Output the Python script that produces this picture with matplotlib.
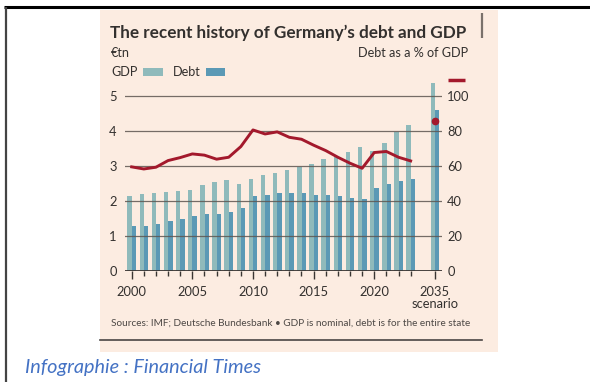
import matplotlib
matplotlib.use("Agg")
import matplotlib.pyplot as plt
import matplotlib.patches as patches
import numpy as np

plt.rcParams['font.family'] = ['Lato', 'DejaVu Sans']

# Data (€tn and % of GDP)
years = list(range(2000, 2024))
gdp = [2.13, 2.19, 2.22, 2.26, 2.30, 2.32, 2.45, 2.54, 2.61, 2.50, 2.64, 2.75,
       2.79, 2.90, 2.97, 3.06, 3.19, 3.29, 3.41, 3.53, 3.42, 3.67, 3.96, 4.17]
debt = [1.28, 1.28, 1.34, 1.44, 1.50, 1.56, 1.62, 1.62, 1.69, 1.81, 2.13, 2.16,
        2.22, 2.22, 2.22, 2.18, 2.18, 2.13, 2.10, 2.06, 2.36, 2.49, 2.56, 2.62]
debt_pct = [59.5, 58.3, 59.3, 63.1, 64.8, 66.9, 66.2, 63.9, 65.0, 71.1, 80.6, 78.3,
            79.5, 76.4, 75.3, 71.9, 68.8, 65.0, 61.6, 58.7, 67.7, 68.3, 65.0, 62.9]
scenario_pos = 2025          # where the 2035 scenario sits on the axis
scenario_gdp = 5.36
scenario_debt = 4.60
scenario_pct = 85.5
xtick_years = [2000, 2005, 2010, 2015, 2020, scenario_pos]
xtick_labels = ['2000', '2005', '2010', '2015', '2020', '2035\nscenario']

# Styles
PINK = '#fcece1'
GDP_C = '#8fbabb'
DEBT_C = '#5b99b5'
RED = '#a3192c'
TXT = '#33302e'
GRID = '#5e5651'

fig = plt.figure(figsize=(5.9, 3.82), dpi=100)

# background / page furniture in pixel coordinates
bg = fig.add_axes([0, 0, 1, 1], zorder=0)
bg.set_xlim(0, 590)
bg.set_ylim(382, 0)
bg.axis('off')
bg.add_patch(patches.Rectangle((100, 10), 397.5, 342, facecolor=PINK, edgecolor='none'))
bg.plot([4, 590], [7, 7], color='black', lw=2.2, solid_capstyle='butt')
bg.plot([6, 6], [7, 382], color='#444444', lw=1.6, solid_capstyle='butt')
bg.plot([481.5, 481.5], [13, 38], color='#7a716b', lw=1.6, solid_capstyle='butt')
bg.plot([100, 482], [340, 340], color='#4a4543', lw=1.2)

bg.text(110, 33, "The recent history of Germany\u2019s debt and GDP", fontsize=12.3,
        fontweight='bold', color=TXT, va='center', ha='left')
bg.text(111, 53, "\u20actn", fontsize=9.1, color=TXT, va='center', ha='left')
bg.text(468, 53, "Debt as a % of GDP", fontsize=9.1, color=TXT, va='center', ha='right')
bg.text(111, 72, "GDP", fontsize=9.1, color=TXT, va='center', ha='left')
bg.add_patch(patches.Rectangle((143, 68), 20, 8, facecolor=GDP_C, edgecolor='none'))
bg.text(173, 72, "Debt", fontsize=9.1, color=TXT, va='center', ha='left')
bg.add_patch(patches.Rectangle((206, 68), 19, 8, facecolor=DEBT_C, edgecolor='none'))
bg.plot([448, 465], [80, 80], color=RED, lw=2.5, solid_capstyle='butt')
bg.text(111, 323, "Sources: IMF; Deutsche Bundesbank \u2022 GDP is nominal, debt is for the entire state",
        fontsize=7.2, color='#4d4845', va='center', ha='left')
bg.text(25, 367, "Infographie : Financial Times", fontsize=14.3, style='italic',
        color='#4472c4', va='center', ha='left')

# chart
ax = fig.add_axes([125 / 590, 111 / 382, 316.7 / 590, 192.5 / 382], zorder=1)
ax.set_facecolor('none')
x = np.array(years)
ax.bar(x - 0.35, gdp, width=0.36, align='edge', color=GDP_C, zorder=2)
ax.bar(x + 0.01, debt, width=0.36, align='edge', color=DEBT_C, zorder=2)
ax.bar(scenario_pos - 0.35, scenario_gdp, width=0.36, align='edge', color=GDP_C, zorder=2)
ax.bar(scenario_pos + 0.01, scenario_debt, width=0.36, align='edge', color=DEBT_C, zorder=2)
for v in range(1, 6):
    ax.axhline(v, color=GRID, lw=0.9, alpha=0.85, zorder=3)
ax.axhline(0, color='#3a3532', lw=1.3, zorder=4)

ax.set_xlim(1999.45, 2025.56)
ax.set_ylim(0, 5.5)
ax.set_yticks(range(0, 6))
ax.set_xticks(xtick_years)
ax.set_xticklabels(xtick_labels, linespacing=0.95)
ax.set_xticks([y for y in years if y not in xtick_years], minor=True)
ax.tick_params(axis='x', which='major', length=5.5, width=1, color='#3a3532',
               labelsize=9.3, labelcolor=TXT, pad=5.5)
ax.tick_params(axis='x', which='minor', length=3.5, width=1, color='#3a3532')
ax.tick_params(axis='y', length=0, labelsize=9.3, labelcolor=TXT, pad=6)
for s in ax.spines.values():
    s.set_visible(False)

ax2 = ax.twinx()
ax2.set_ylim(0, 110)
ax2.set_yticks(range(0, 101, 20))
ax2.tick_params(axis='y', length=0, labelsize=9.3, labelcolor=TXT, pad=4)
for s in ax2.spines.values():
    s.set_visible(False)
ax2.plot(years, debt_pct, color=RED, lw=2.1, solid_joinstyle='round', zorder=5)
ax2.plot([scenario_pos], [scenario_pct], 'o', color=RED, ms=4.5, zorder=6)

fig.savefig('out.png', dpi=100, facecolor='white')
